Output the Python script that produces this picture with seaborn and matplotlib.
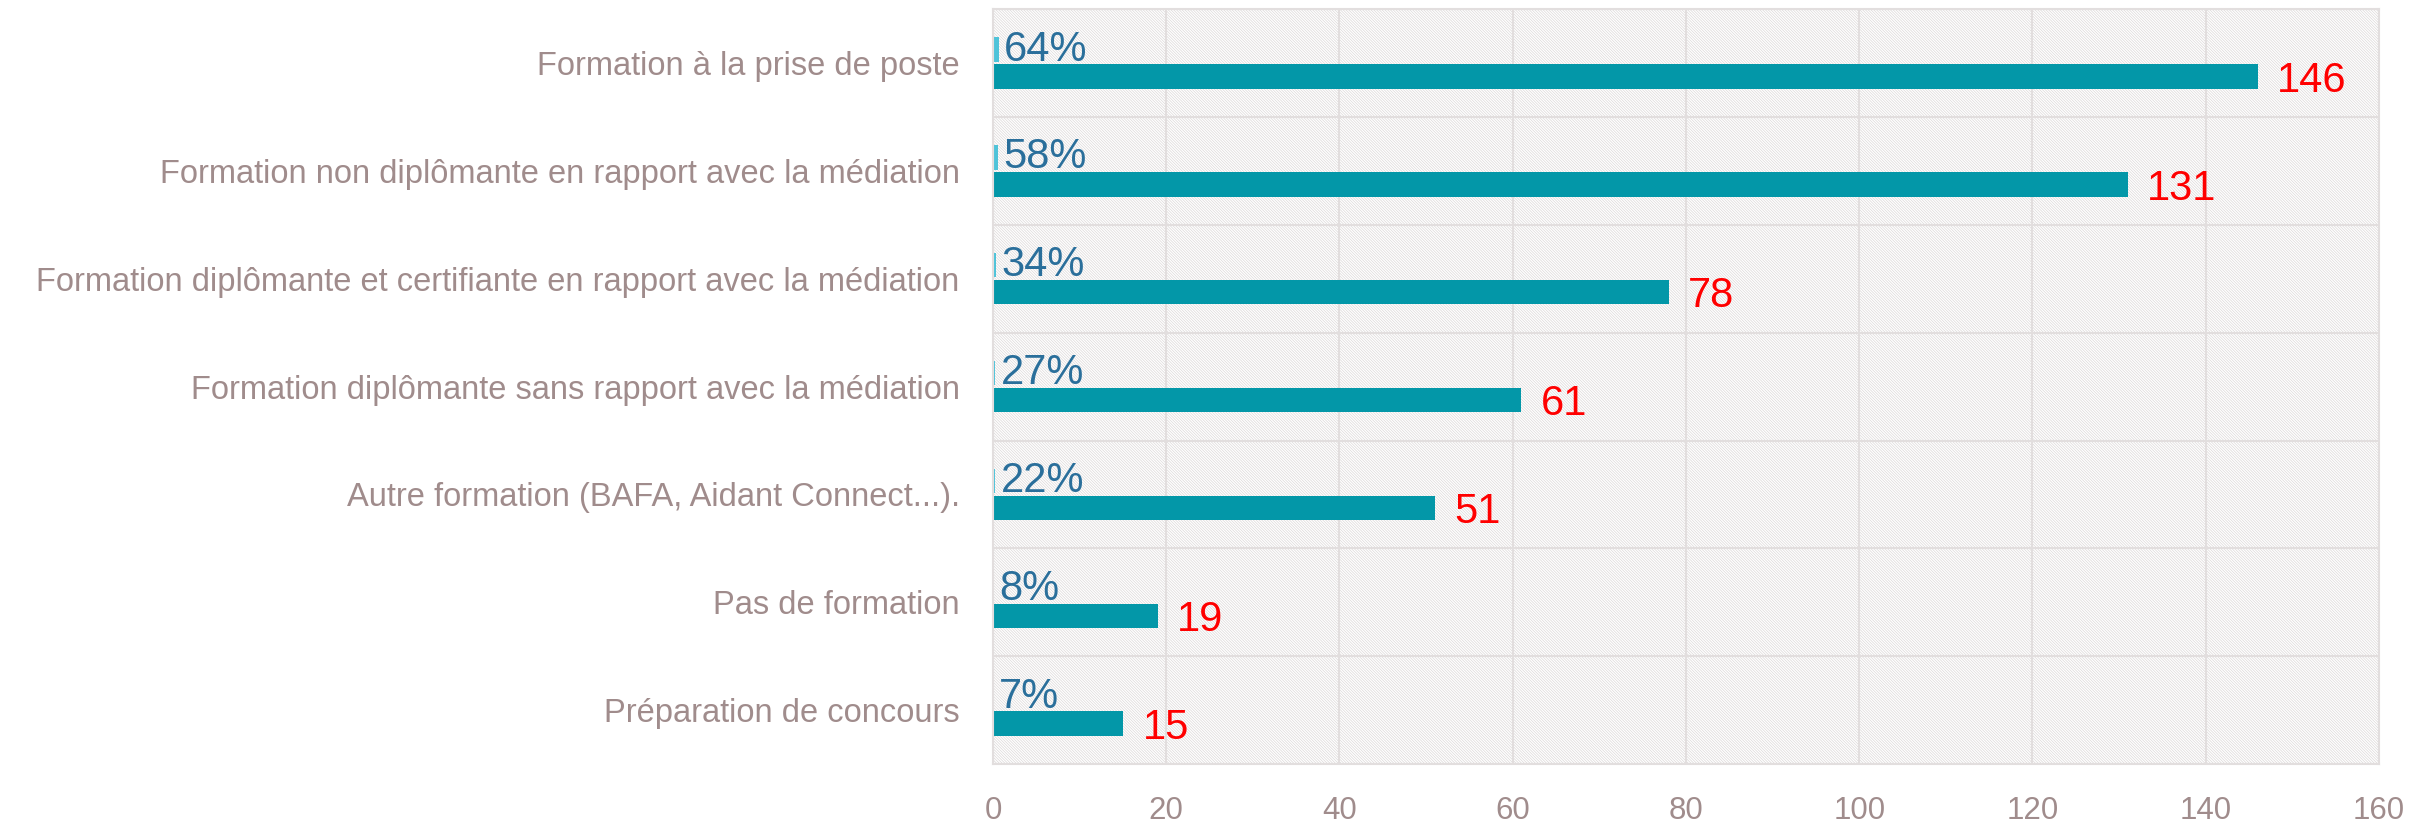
import pandas as pd
import seaborn as sns
import matplotlib.pyplot as plt
from matplotlib.patches import Rectangle

# Data
categories = [
    "Formation à la prise de poste",
    "Formation non diplômante en rapport avec la médiation",
    "Formation diplômante et certifiante en rapport avec la médiation",
    "Formation diplômante sans rapport avec la médiation",
    "Autre formation (BAFA, Aidant Connect...).",
    "Pas de formation",
    "Préparation de concours",
]
counts = [146, 131, 78, 61, 51, 19, 15]
shares = [0.64, 0.58, 0.34, 0.27, 0.22, 0.08, 0.07]
x_ticks = [0, 20, 40, 60, 80, 100, 120, 140, 160]

# Long table for seaborn
df = pd.concat([
    pd.DataFrame({"categorie": categories, "serie": "Part", "valeur": shares}),
    pd.DataFrame({"categorie": categories, "serie": "Effectif", "valeur": counts}),
])

sns.set_style("white")
plt.rcParams['font.family'] = ['Liberation Sans', 'DejaVu Sans']
plt.rcParams['hatch.linewidth'] = 0.5

grid_color = '#e2dede'
label_grey = '#a08c8c'

fig = plt.figure(figsize=(24.35, 8.32), dpi=100)
ax = fig.add_axes([0.4078, 0.0817, 0.5692, 0.9073])

# hatched background
ax.add_patch(Rectangle((0, 0), 1, 1, transform=ax.transAxes, facecolor='white',
                       edgecolor='#dcd8d8', hatch='\\' * 12, lw=0, zorder=0))

sns.barplot(data=df, x="valeur", y="categorie", hue="serie", orient="h",
            hue_order=["Part", "Effectif"],
            palette={"Part": "#4ec3d9", "Effectif": "#0397a8"},
            width=0.5, gap=0.1, legend=False, ax=ax, saturation=1, linewidth=0)

# data labels
ax.bar_label(ax.containers[0], labels=[f"{round(v * 100)}%" for v in shares],
             padding=4, fontsize=30, color='#2a6f9b')
for bar, c in zip(ax.containers[1], counts):
    ax.annotate(str(c), (bar.get_width(), bar.get_y() + bar.get_height() / 2),
                xytext=(14, -3), textcoords='offset points', va='center', ha='left',
                fontsize=30, color='#ff0000')

ax.set_xlim(0, 160)
ax.set_ylim(len(categories) - 0.5, -0.5)
ax.set_xticks(x_ticks)
ax.set_yticks(range(len(categories)), categories)
ax.set_yticks([i - 0.5 for i in range(len(categories) + 1)], minor=True)
ax.set_xlabel("")
ax.set_ylabel("")

ax.set_axisbelow(True)
ax.grid(axis='x', which='major', color=grid_color, lw=1.5)
ax.grid(axis='y', which='minor', color=grid_color, lw=1.5)
ax.grid(axis='y', which='major', visible=False)
ax.tick_params(axis='both', which='both', length=0)
ax.tick_params(axis='y', labelsize=23.5, labelcolor=label_grey, pad=24)
ax.tick_params(axis='x', labelsize=22.5, labelcolor=label_grey, pad=23)
for s in ax.spines.values():
    s.set_color(grid_color)
    s.set_linewidth(1.5)

fig.savefig("out.png", dpi=100)
